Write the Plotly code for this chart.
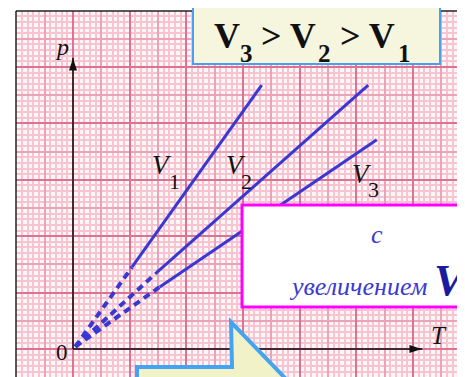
import plotly.graph_objects as go

# ---- data (T and p in grid units) ----
series_names = ["V1", "V2", "V3"]
T_values = {
    "V1": [0.04, 1.04, 3.33],
    "V2": [0.04, 1.45, 5.21],
    "V3": [0.04, 1.53, 5.36],
}
p_values = {
    "V1": [0.04, 1.45, 4.68],
    "V2": [0.04, 1.33, 4.68],
    "V3": [0.04, 1.10, 3.71],
}
title_parts = ["V", "3", " > V", "2", " > V", "1"]
note_line1 = "с"
note_line2 = "увеличением"
note_symbol = "V"
axis_x_label = "T"
axis_y_label = "p"
origin_label = "0"

# ---- geometry (page pixels; the page body has an 8px margin) ----
OFF = 8
PAGE_W, PAGE_H = 465, 377
W, H = PAGE_W - OFF, PAGE_H - OFF
L, TOP = 16, 11                 # plot area edges on the page
PW, PH = PAGE_W - L, PAGE_H - TOP
X0PX, Y0PX = 73, 349            # data origin on the page
UX, UY = 56.67, 56.4

def px2paper(px, py):
    return (px - L) / PW, 1 - (py - TOP) / PH

def px2data(px, py):
    return (px - X0PX) / UX, (Y0PX - py) / UY

xr = [(L - X0PX) / UX, (L + PW - X0PX) / UX]
yr = [(Y0PX - (TOP + PH)) / UY, (Y0PX - TOP) / UY]

LINE = "#3a38d2"
fig = go.Figure()

# coordinate axes with arrowheads
_, pty = px2data(73, 52)
ttx, _ = px2data(428, 349)
fig.add_trace(go.Scatter(x=[0, 0], y=[0, pty - 0.1], mode="lines",
                         line=dict(color="#111", width=1.5), showlegend=False, hoverinfo="skip"))
fig.add_trace(go.Scatter(x=[0, ttx - 0.1], y=[0, 0], mode="lines",
                         line=dict(color="#111", width=1.5), showlegend=False, hoverinfo="skip"))
fig.add_trace(go.Scatter(x=[0, ttx - 0.11], y=[pty - 0.11, 0], mode="markers",
                         marker=dict(symbol="arrow", size=13, angle=[0, 90], color="#111",
                                     line=dict(width=0)),
                         showlegend=False, hoverinfo="skip"))

for name in series_names:
    T = T_values[name]
    p = p_values[name]
    fig.add_trace(go.Scatter(x=T[0:2], y=p[0:2], mode="lines",
                             line=dict(color=LINE, width=4, dash="7px,5px"),
                             showlegend=False, hoverinfo="skip"))
    fig.add_trace(go.Scatter(x=T[1:3], y=p[1:3], mode="lines",
                             line=dict(color=LINE, width=3),
                             showlegend=False, hoverinfo="skip"))

# invisible trace for overlay grid axes
fig.add_trace(go.Scatter(x=[xr[0]], y=[yr[0]], xaxis="x2", yaxis="y2",
                         mode="markers", marker=dict(opacity=0),
                         showlegend=False, hoverinfo="skip"))

fine = "#f7c4d2"
medium = "#eca2b7"
major = "#df7293"

axis_common = dict(showticklabels=False, ticks="", zeroline=False,
                   showline=False, fixedrange=True)
fig.update_layout(
    width=W, height=H,
    margin=dict(l=L - OFF, r=0, t=TOP - OFF, b=0),
    paper_bgcolor="white",
    plot_bgcolor="#fff6f8",
    xaxis=dict(range=xr, tick0=0, dtick=0.5, showgrid=True, gridcolor=medium,
               gridwidth=1.5,
               minor=dict(dtick=0.1, tick0=0, showgrid=True, gridcolor=fine,
                          gridwidth=2),
               **axis_common),
    yaxis=dict(range=yr, tick0=0, dtick=0.5, showgrid=True, gridcolor=medium,
               gridwidth=1.5,
               minor=dict(dtick=0.1, tick0=0, showgrid=True, gridcolor=fine,
                          gridwidth=2),
               **axis_common),
    xaxis2=dict(range=xr, overlaying="x", tick0=0, dtick=1, showgrid=True,
                gridcolor=major, gridwidth=1.5, **axis_common),
    yaxis2=dict(range=yr, overlaying="y", tick0=0, dtick=1, showgrid=True,
                gridcolor=major, gridwidth=1.5, **axis_common),
)

shapes = []
# black frame (left and top)
shapes.append(dict(type="line", xref="paper", yref="paper", x0=0, y0=0, x1=0, y1=1,
                   line=dict(color="#222", width=1.5), layer="above"))
shapes.append(dict(type="line", xref="paper", yref="paper", x0=0, y0=1, x1=1, y1=1,
                   line=dict(color="#222", width=1.5), layer="above"))

# top box
bx0, by1 = px2paper(193, 1)
bx1, by0 = px2paper(440, 64)
shapes.append(dict(type="rect", xref="paper", yref="paper", x0=bx0, y0=by0, x1=bx1, y1=by1,
                   fillcolor="#f6f6df", line=dict(color="#4a9ff0", width=2), layer="above"))
# magenta box
mx0, my1 = px2paper(242, 205)
mx1, my0 = px2paper(520, 307)
shapes.append(dict(type="rect", xref="paper", yref="paper", x0=mx0, y0=my0, x1=mx1, y1=my1,
                   fillcolor="white", line=dict(color="#ff00ff", width=3), layer="above"))

# block arrow
pts = [(137, 400), (137, 367), (232, 367), (231, 322), (287, 380)]
path = ""
for i, (a, b) in enumerate(pts):
    xx, yy = px2paper(a, b)
    path += ("M" if i == 0 else "L") + f"{xx:.5f},{yy:.5f} "
path += "Z"
shapes.append(dict(type="path", xref="paper", yref="paper", path=path,
                   fillcolor="#f1f2c8", line=dict(color="#44a4f2", width=4), layer="above"))
fig.update_layout(shapes=shapes)

ann = []
serif = "Liberation Serif"

def label(text, px, py, size, color="#111", family=serif, xanchor="center"):
    x, y = px2paper(px, py)
    ann.append(dict(x=x, y=y, xref="paper", yref="paper", text=text, showarrow=False,
                    xanchor=xanchor, yanchor="middle",
                    font=dict(family=family, size=size, color=color)))

label(f"<i>{axis_y_label}</i>", 62, 47, 24)
label(f"<i>{axis_x_label}</i>", 439, 335, 25)
label(origin_label, 62, 352, 23)

# series labels
sub_pos = {"V1": ((162, 165), (174, 181)),
           "V2": ((236, 165), (247, 181)),
           "V3": ((362, 174), (373, 189))}
for name in series_names:
    (vx, vy), (sx, sy) = sub_pos[name]
    label("<i>V</i>", vx, vy, 27)
    label(name[1], sx, sy, 22)

# top box text: large letters and lowered subscripts placed in sequence
title_x = [212, 238, 250, 316, 329, 396]
for i, part in enumerate(title_parts):
    is_sub = i % 2 == 1
    xx, yy = px2paper(title_x[i], 53 if is_sub else 36)
    ann.append(dict(x=xx, y=yy, xref="paper", yref="paper", showarrow=False,
                    xanchor="left", yanchor="middle", text=f"<b>{part}</b>",
                    font=dict(family=serif, size=25 if is_sub else 36, color="#111")))

# magenta box text
label(f"<i>{note_line1}</i>", 377, 234, 26, color="#3a3ad0")
x2p, y2p = px2paper(378, 280)
ann.append(dict(x=x2p, y=y2p, xref="paper", yref="paper", showarrow=False,
                xanchor="center", yanchor="middle",
                text=f"<i>{note_line2} </i><span style='font-size:45px;color:#1a1aa0'><b><i>{note_symbol}</i></b></span>",
                font=dict(family=serif, size=26, color="#3a3ad0")))
fig.update_layout(annotations=ann)

fig.write_html("out.html")
